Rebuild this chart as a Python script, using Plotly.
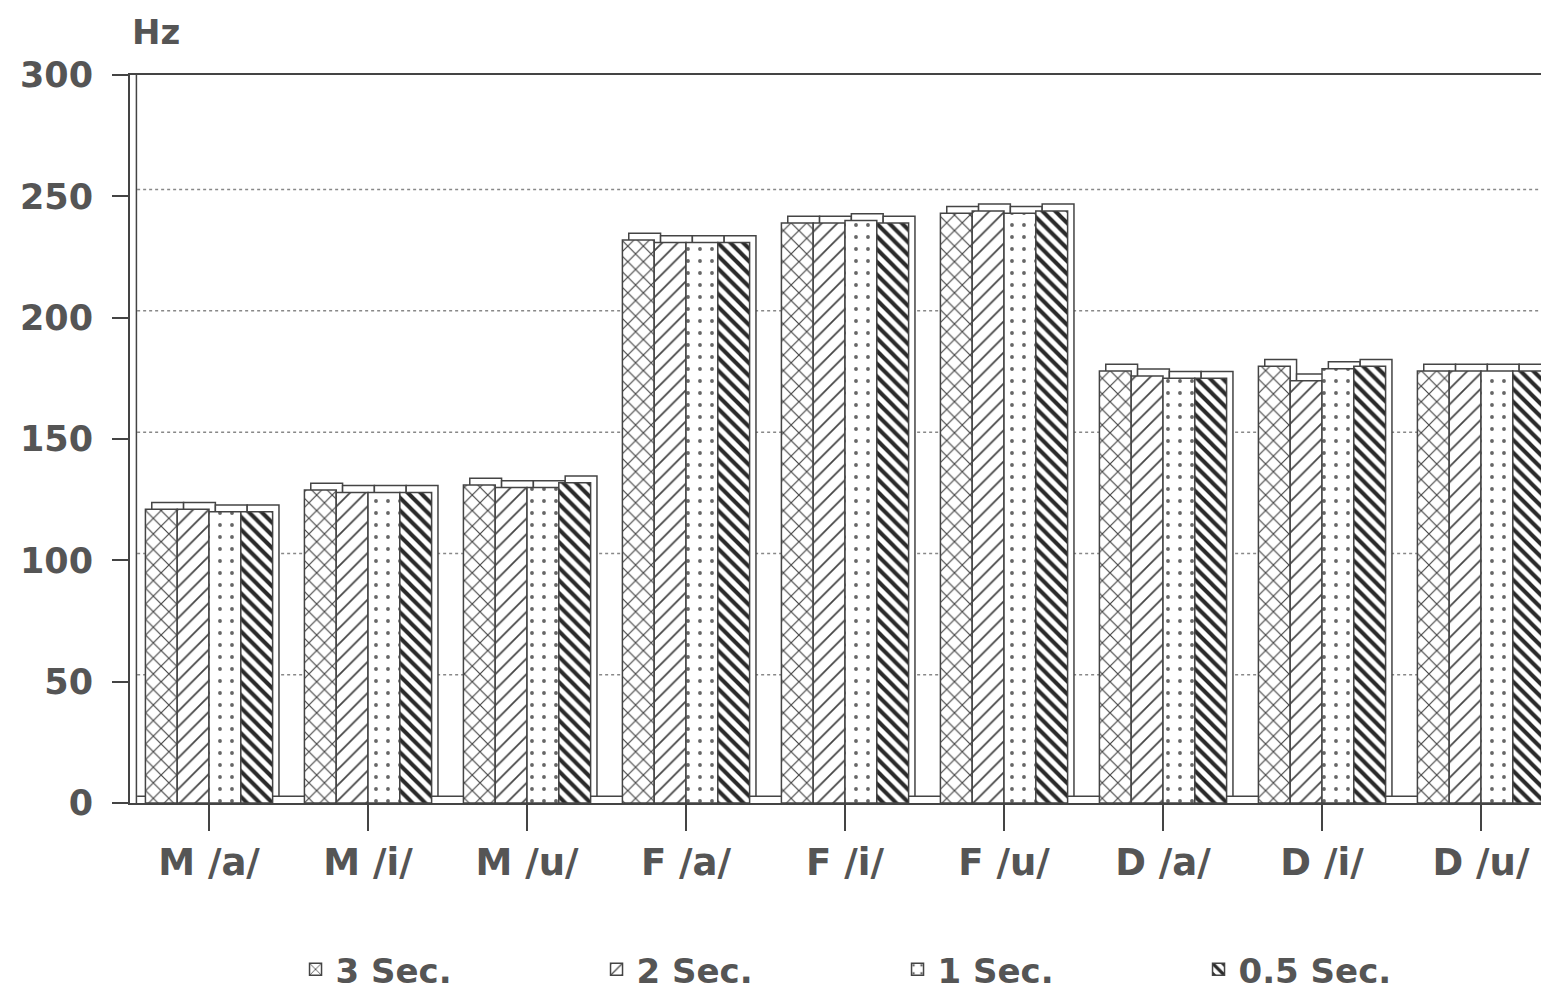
import plotly.graph_objects as go

categories = ["M /a/", "M /i/", "M /u/", "F /a/", "F /i/", "F /u/", "D /a/", "D /i/", "D /u/"]
series_names = ["3 Sec.", "2 Sec.", "1 Sec.", "0.5 Sec."]
sec3 = [121, 129, 131, 232, 239, 243, 178, 180, 178]
sec2 = [121, 128, 130, 231, 239, 244, 176, 174, 178]
sec1 = [120, 128, 130, 231, 240, 243, 175, 179, 178]
sec05 = [120, 128, 132, 231, 239, 244, 175, 180, 178]
y_ticks = [0, 50, 100, 150, 200, 250, 300]

series_values = [sec3, sec2, sec1, sec05]
patterns = [
    dict(shape="x", size=11, solidity=0.2, fgcolor="#444", fgopacity=1, bgcolor="white", fillmode="overlay"),
    dict(shape="/", size=11, solidity=0.16, fgcolor="#444", fgopacity=1, bgcolor="white", fillmode="overlay"),
    dict(shape=".", size=12, solidity=0.08, fgcolor="#666", fgopacity=1, bgcolor="white", fillmode="overlay"),
    dict(shape="\\", size=9, solidity=0.45, fgcolor="#2a2a2a", fgopacity=1, bgcolor="white", fillmode="overlay"),
]

x = list(range(len(categories)))
W = 0.2
offsets = [-0.4, -0.2, 0.0, 0.2]
DX = 0.04
DEPTH = 2.8
LINE = "#444"
FAM = "DejaVu Sans, Liberation Sans, sans-serif"
XFONT = dict(family=FAM, size=37, color="#555", weight="bold")
YFONT = dict(family=FAM, size=35, color="#555", weight="bold")
LFONT = dict(family=FAM, size=34, color="#555", weight="bold")

fig = go.Figure()

# back faces (3D depth)
for vals, off in zip(series_values, offsets):
    fig.add_trace(go.Bar(
        x=x, y=vals, base=DEPTH, width=W, offset=off + DX,
        marker=dict(color="white", line=dict(color=LINE, width=1.5)),
        showlegend=False, hoverinfo="skip"))

# front faces
for name, vals, off, pat in zip(series_names, series_values, offsets, patterns):
    fig.add_trace(go.Bar(
        x=x, y=vals, width=W, offset=off, name=name,
        marker=dict(color="white", pattern=pat, line=dict(color=LINE, width=1.5))))

shapes = []
for t in y_ticks[1:-1]:
    shapes.append(dict(type="line", xref="paper", yref="y", x0=0.005, x1=1,
                       y0=t + DEPTH, y1=t + DEPTH, layer="below",
                       line=dict(color="#888", width=1.5, dash="dot")))
# floor back edge
shapes.append(dict(type="line", xref="paper", yref="y", x0=0.005, x1=1,
                   y0=DEPTH, y1=DEPTH, layer="below", line=dict(color=LINE, width=1.5)))
shapes.append(dict(type="line", xref="paper", yref="paper", x0=0.0045, x1=0.0045,
                   y0=0, y1=1, line=dict(color=LINE, width=1.5)))

fig.update_layout(
    width=1549, height=1003,
    margin=dict(l=122, r=0, t=67, b=208, autoexpand=False),
    paper_bgcolor="white", plot_bgcolor="white",
    barmode="overlay",
    font=LFONT,
    shapes=shapes,
    xaxis=dict(range=[-0.497, 8.478], tickvals=x, ticktext=categories,
               showline=True, mirror=True, linecolor=LINE, linewidth=2,
               ticks="outside", ticklen=26, tickcolor=LINE, tickwidth=1.5,
               ticklabelstandoff=0,
               showgrid=False, zeroline=False, tickfont=XFONT),
    yaxis=dict(range=[0, 300], tickvals=y_ticks, showline=True, linecolor=LINE, linewidth=2,
               ticks="outside", ticklen=16, tickcolor=LINE, tickwidth=1.5,
               ticklabelstandoff=12,
               showgrid=False, zeroline=False, tickfont=YFONT),
    legend=dict(orientation="h", x=0.116, xanchor="left", y=-0.229, yanchor="middle",
                entrywidth=256, entrywidthmode="pixels", font=LFONT,
                traceorder="normal"),
    annotations=[dict(text="Hz", xref="paper", yref="paper", x=0.0, y=1.059,
                      xanchor="left", yanchor="middle", showarrow=False, font=LFONT)],
)

fig.write_html("out.html")
